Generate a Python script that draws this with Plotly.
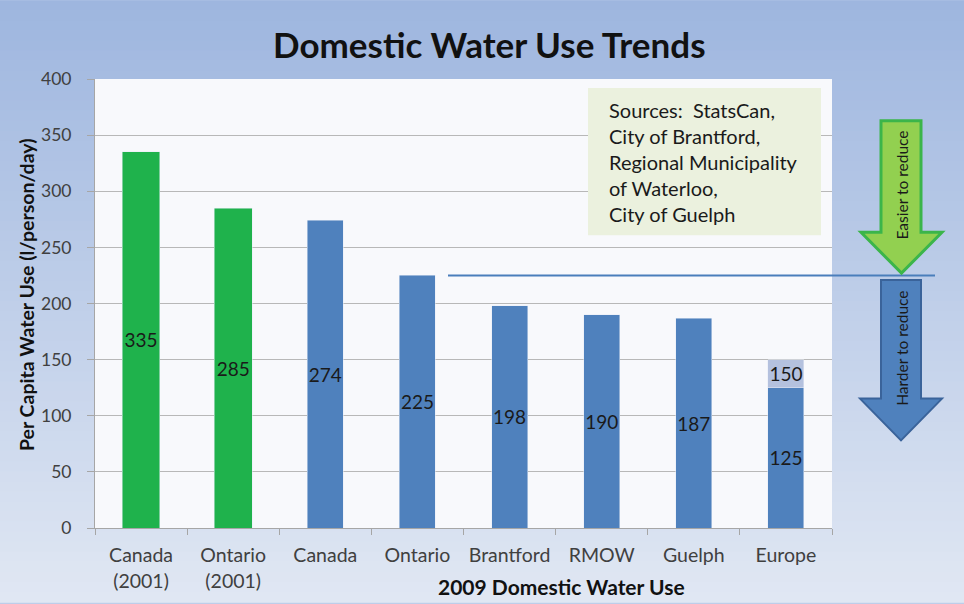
import plotly.graph_objects as go

# ---- data ----
categories = ["Canada<br>(2001)", "Ontario<br>(2001)", "Canada", "Ontario",
              "Brantford", "RMOW", "Guelph", "Europe"]
cats_2001 = categories[:2]
values_2001 = [335, 285]
cats_2009 = categories[2:]
values_2009 = [274, 225, 198, 190, 187, 125]
europe_high = 150
europe_low = values_2009[-1]
threshold = 225
y_ticks = [0, 50, 100, 150, 200, 250, 300, 350, 400]

title = "Domestic Water Use Trends"
x_title = "2009 Domestic Water Use"
y_title = "Per Capita Water Use (l/person/day)"
sources = ["Sources:&nbsp; StatsCan,", "City of Brantford,", "Regional Municipality",
           "of Waterloo,", "City of Guelph"]

# ---- layout geometry (pixels) ----
W, H = 964, 604
L, R, T, B = 95, 132, 79, 74
PW, PH = W - L - R, H - T - B


def px(x):
    return (x - L) / PW


def py(y):
    return (H - B - y) / PH


FONT = "Lato"
TXT = "#404040"
LBL = dict(family=FONT, size=19, color="#1a1a1a")

fig = go.Figure()
fig.add_trace(go.Bar(
    x=cats_2001, y=values_2001, width=0.41, marker_color="#1fb24c",
    text=[str(v) for v in values_2001], textposition="inside",
    insidetextanchor="middle", textangle=0, constraintext="none",
    textfont=LBL, showlegend=False))
fig.add_trace(go.Bar(
    x=cats_2009, y=values_2009, width=0.39, marker_color="#4f81bd",
    text=[str(v) for v in values_2009], textposition="inside",
    insidetextanchor="middle", textangle=0, constraintext="none",
    textfont=LBL, showlegend=False))
fig.add_trace(go.Bar(
    x=[categories[-1]], y=[europe_high - europe_low], width=0.39,
    marker_color="#b4c1de", text=[str(europe_high)], textposition="inside",
    insidetextanchor="middle", textangle=0, constraintext="none",
    textfont=LBL, showlegend=False))

shapes = []
# background gradient
top_c = (158, 182, 223)
bot_c = (224, 231, 243)
n = 60
for i in range(n):
    t = i / (n - 1)
    c = tuple(int(round(top_c[k] + (bot_c[k] - top_c[k]) * t)) for k in range(3))
    ya = H * i / n
    yb = H * (i + 1) / n + 1
    shapes.append(dict(type="rect", xref="paper", yref="paper", layer="below",
                       x0=px(0), x1=px(W), y0=py(yb), y1=py(ya),
                       fillcolor="rgb(%d,%d,%d)" % c, line=dict(width=0)))
# plot area
shapes.append(dict(type="rect", xref="paper", yref="paper", layer="below",
                   x0=0, x1=1, y0=0, y1=1, fillcolor="#f8f9fc", line=dict(width=0)))
# threshold line
shapes.append(dict(type="line", xref="paper", yref="y", x0=px(448), x1=px(935),
                   y0=threshold, y1=threshold, line=dict(color="#4a7ebb", width=2),
                   layer="above"))
# sources box
shapes.append(dict(type="rect", xref="paper", yref="paper", layer="above",
                   x0=px(588), x1=px(821), y0=py(236), y1=py(88),
                   fillcolor="#ebf1de", line=dict(width=0)))


def arrow_path(xl, xr, top, hb, hl, hr, tip_y):
    xm = (hl + hr) / 2
    pts = [(xl, top), (xr, top), (xr, hb), (hr, hb), (xm, tip_y), (hl, hb), (xl, hb)]
    return "M " + " L ".join("%.5f,%.5f" % (px(a), py(b)) for a, b in pts) + " Z"


shapes.append(dict(type="path", xref="paper", yref="paper", layer="above",
                   path=arrow_path(881, 921, 121, 233, 861, 942, 274),
                   fillcolor="#92d050", line=dict(color="#3bb54a", width=3)))
shapes.append(dict(type="path", xref="paper", yref="paper", layer="above",
                   path=arrow_path(881, 921, 281, 400, 860, 942, 442),
                   fillcolor="#4f81bd", line=dict(color="#3a639a", width=2)))

annotations = [
    dict(text="<b>" + title + "</b>", xref="paper", yref="paper", x=px(489), y=py(44),
         showarrow=False, font=dict(family=FONT, size=35, color="#111111"),
         xanchor="center", yanchor="middle"),
    dict(text="<b>" + x_title + "</b>", xref="paper", yref="paper", x=px(561), y=py(589),
         showarrow=False, font=dict(family=FONT, size=21, color="#111111"),
         xanchor="center", yanchor="middle"),
    dict(text="<b>" + y_title + "</b>", xref="paper", yref="paper", x=px(26), y=py(296),
         showarrow=False, textangle=-90, font=dict(family=FONT, size=19.5, color="#111111"),
         xanchor="center", yanchor="middle"),
    dict(text="<br>".join(sources), xref="paper", yref="paper", x=px(607), y=py(96),
         showarrow=False, align="left", xanchor="left", yanchor="top",
         font=dict(family=FONT, size=20, color="#1a1a1a")),
    dict(text="Easier to reduce", xref="paper", yref="paper", x=px(902), y=py(186),
         showarrow=False, textangle=-90, font=dict(family=FONT, size=15.5, color="#1a1a1a"),
         xanchor="center", yanchor="middle"),
    dict(text="Harder to reduce", xref="paper", yref="paper", x=px(902), y=py(350),
         showarrow=False, textangle=-90, font=dict(family=FONT, size=15.5, color="#1a1a1a"),
         xanchor="center", yanchor="middle"),
]

fig.update_layout(
    width=W, height=H, margin=dict(l=L, r=R, t=T, b=B, pad=0),
    barmode="stack", bargap=0.6,
    paper_bgcolor="rgb(190,205,233)", plot_bgcolor="rgba(0,0,0,0)",
    font=dict(family=FONT, color=TXT),
    shapes=shapes, annotations=annotations,
    xaxis=dict(categoryorder="array", categoryarray=categories,
               showline=True, linecolor="#a6a6a6", linewidth=1,
               ticks="outside", tickson="boundaries", ticklen=6, tickcolor="#a6a6a6",
               ticklabelstandoff=10,
               tickfont=dict(family=FONT, size=19.5, color=TXT),
               showgrid=False, fixedrange=True),
    yaxis=dict(range=[0, 400], tickvals=y_ticks, showline=True, linecolor="#a6a6a6",
               ticks="outside", ticklen=7, tickcolor="#a6a6a6",
               ticklabelstandoff=12,
               gridcolor="#b8b8b8", gridwidth=1, zeroline=False,
               tickfont=dict(family=FONT, size=17.5, color=TXT), fixedrange=True),
)

fig.write_html("out.html", config={"displayModeBar": False},
               post_script="document.body.style.margin='0';document.body.style.overflow='hidden';")
